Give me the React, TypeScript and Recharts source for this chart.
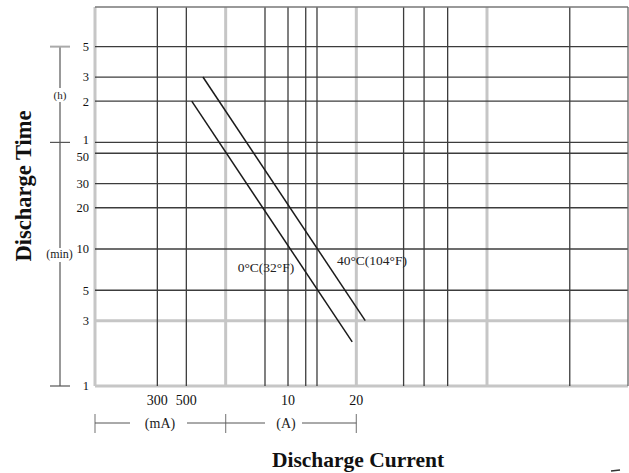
import { ComposedChart, Line, XAxis, YAxis, ReferenceLine } from 'recharts'

// discharge current (A), log axis
const currentDomain = [0.1, 1200]
const currentMinor = [0.3, 0.5, 2, 3, 4.1, 5, 23, 33, 50, 430]
const currentMajor = [1, 10, 100]
const currentTicks = [0.3, 0.5, 3, 10]
const currentTickLabels = ['300', '500', '10', '20']

// discharge time (min), log axis
const timeDomain = [1, 584]
const timeMinor = [5, 10, 20, 30, 50, 60, 120, 180, 300]
const timeMajor = [3]
const timeTicks = [1, 3, 5, 10, 20, 30, 50, 60, 120, 180, 300]
const timeTickLabels = ['1', '3', '5', '10', '20', '30', '50', '1', '2', '3', '5']

// curves
const cold = [
  { a: 0.55, t: 120 },
  { a: 9.3, t: 2.1 },
]
const warm = [
  { a: 0.67, t: 180 },
  { a: 11.7, t: 3 },
]

const W = 629
const H = 473
const M = { top: 7, right: 1, left: 0, bottom: 57 }
const Y_AXIS_W = 95
const X_AXIS_H = 30
const PLOT = {
  left: M.left + Y_AXIS_W,
  right: W - M.right,
  top: M.top,
  bottom: H - M.bottom - X_AXIS_H,
}

const FONT = '"Liberation Serif", "Times New Roman", serif'
const DARK = '#3c3c3c'
const LIGHT = '#c6c6c6'

// same log mapping as the chart, used only for the annotations
const fx = (v: number) =>
  PLOT.left + ((Math.log10(v) - Math.log10(currentDomain[0])) /
    (Math.log10(currentDomain[1]) - Math.log10(currentDomain[0]))) * (PLOT.right - PLOT.left)
const fy = (v: number) =>
  PLOT.bottom - ((Math.log10(v) - Math.log10(timeDomain[0])) /
    (Math.log10(timeDomain[1]) - Math.log10(timeDomain[0]))) * (PLOT.bottom - PLOT.top)

const xTickStyle = { fill: '#111', fontSize: 14, fontFamily: FONT }

// 1 h and 50 min sit very close, nudge them apart a little
const TimeTick = (props: any) => {
  const { x, y, payload } = props
  const v = payload.value
  const nudge = v === 60 ? -3 : v === 50 ? 3 : 0
  return (
    <text x={x} y={y + nudge} dy="0.355em" textAnchor="end" fontSize={12.5} fontFamily={FONT} fill="#111">
      {timeTickLabels[timeTicks.indexOf(v)]}
    </text>
  )
}

export default function App() {
  const bracketY = 423
  return (
    <div style={{ position: 'absolute', left: 0, top: 0, width: W, height: H, background: '#fff', fontFamily: FONT }}>
      <ComposedChart width={W} height={H} margin={M}>
        <XAxis
          type="number"
          dataKey="a"
          scale="log"
          domain={currentDomain}
          allowDataOverflow
          ticks={currentTicks}
          interval={0}
          tickFormatter={(v: number) => currentTickLabels[currentTicks.indexOf(v)]}
          tick={xTickStyle}
          tickSize={0}
          tickMargin={9}
          axisLine={false}
          height={X_AXIS_H}
        />
        <YAxis
          type="number"
          scale="log"
          domain={timeDomain}
          allowDataOverflow
          ticks={timeTicks}
          interval={0}
          tick={<TimeTick />}
          tickSize={0}
          tickMargin={6}
          axisLine={false}
          width={Y_AXIS_W}
        />

        {/* light, heavy grid lines + left/bottom frame */}
        <ReferenceLine x={currentDomain[0]} stroke={LIGHT} strokeWidth={3} />
        {currentMajor.map(v => (
          <ReferenceLine key={'xm' + v} x={v} stroke={LIGHT} strokeWidth={3} />
        ))}
        <ReferenceLine y={timeDomain[0]} stroke={LIGHT} strokeWidth={3} />
        {timeMajor.map(v => (
          <ReferenceLine key={'ym' + v} y={v} stroke={LIGHT} strokeWidth={3} />
        ))}

        {/* thin dark grid lines + top/right frame */}
        {currentMinor.map(v => (
          <ReferenceLine key={'x' + v} x={v} stroke={DARK} strokeWidth={1.3} />
        ))}
        {timeMinor.map(v => (
          <ReferenceLine key={'y' + v} y={v} stroke={DARK} strokeWidth={1.3} />
        ))}
        <ReferenceLine y={timeDomain[1]} stroke="#777" strokeWidth={1.3} />
        <ReferenceLine x={currentDomain[1]} stroke="#666" strokeWidth={1.3} />

        <Line data={cold} dataKey="t" stroke="#1a1a1a" strokeWidth={1.5} dot={false} isAnimationActive={false} />
        <Line data={warm} dataKey="t" stroke="#1a1a1a" strokeWidth={1.5} dot={false} isAnimationActive={false} />
      </ComposedChart>

      <svg width={W} height={H} style={{ position: 'absolute', left: 0, top: 0, pointerEvents: 'none' }}>
        {/* time unit bar on the left */}
        <line x1={60} x2={60} y1={fy(300)} y2={fy(1)} stroke="#555" strokeWidth={1.2} />
        <line x1={50} x2={70} y1={fy(300)} y2={fy(300)} stroke="#aaa" strokeWidth={2} />
        <line x1={50} x2={70} y1={fy(60)} y2={fy(60)} stroke="#555" strokeWidth={1.2} />
        <line x1={50} x2={70} y1={fy(1)} y2={fy(1)} stroke="#555" strokeWidth={1.2} />
        <rect x={52} y={88} width={16} height={14} fill="#fff" />
        <text x={60} y={99} fontSize={11} textAnchor="middle" fill="#222">(h)</text>
        <rect x={44} y={248} width={31} height={14} fill="#fff" />
        <text x={59.5} y={258} fontSize={12} textAnchor="middle" fill="#222">(min)</text>
        <text
          x={23} y={186} fontSize={22.5} fontWeight="bold" textAnchor="middle"
          dominantBaseline="central" transform="rotate(-90 23 186)" fill="#111"
        >
          Discharge Time
        </text>

        {/* current unit brackets */}
        {[currentDomain[0], 1, 10].map(v => (
          <line key={'b' + v} x1={fx(v)} x2={fx(v)} y1={414} y2={433} stroke="#888" strokeWidth={1.2} />
        ))}
        <line x1={fx(0.1)} x2={130} y1={bracketY} y2={bracketY} stroke="#555" strokeWidth={1} />
        <line x1={187} x2={fx(1)} y1={bracketY} y2={bracketY} stroke="#555" strokeWidth={1} />
        <line x1={fx(1)} x2={265} y1={bracketY} y2={bracketY} stroke="#555" strokeWidth={1} />
        <line x1={302} x2={fx(10)} y1={bracketY} y2={bracketY} stroke="#555" strokeWidth={1} />
        <text x={160} y={428} fontSize={14} textAnchor="middle" fill="#222">(mA)</text>
        <text x={286} y={428} fontSize={14} textAnchor="middle" fill="#222">(A)</text>
        <text x={358} y={467} fontSize={21.5} fontWeight="bold" textAnchor="middle" fill="#111">
          Discharge Current
        </text>

        {/* curve labels */}
        <text x={266} y={272} fontSize={13.5} textAnchor="middle" fill="#222">0°C(32°F)</text>
        <text x={372} y={265} fontSize={13.5} textAnchor="middle" fill="#222">40°C(104°F)</text>
        <line x1={611} x2={620} y1={471} y2={470} stroke="#333" strokeWidth={1.5} />
      </svg>
    </div>
  )
}
